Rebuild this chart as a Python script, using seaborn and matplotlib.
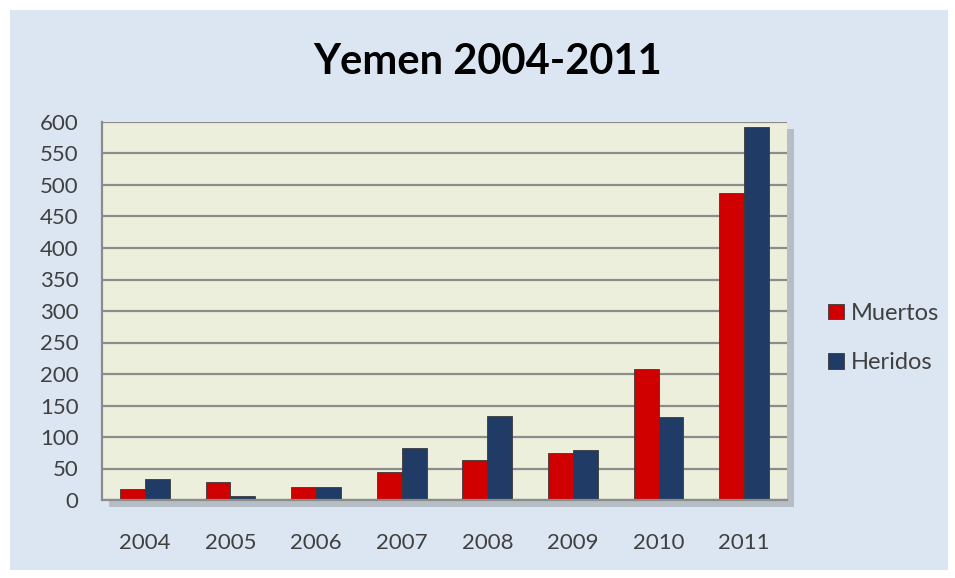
import pandas as pd
import matplotlib.pyplot as plt
import seaborn as sns
from matplotlib.patches import Rectangle
from matplotlib import patheffects as pe

years = ["2004", "2005", "2006", "2007", "2008", "2009", "2010", "2011"]
muertos = [18, 28, 21, 44, 63, 74, 208, 487]
heridos = [33, 7, 21, 82, 133, 80, 131, 592]
series = ["Muertos", "Heridos"]
colors = ["#D00000", "#1F3B66"]
yticks = list(range(0, 601, 50))

df = pd.DataFrame({
    "year": years * 2,
    "serie": [series[0]] * len(years) + [series[1]] * len(years),
    "value": muertos + heridos,
})

sns.set_style("white")
plt.rcParams["font.family"] = ["Lato", "DejaVu Sans"]

fig = plt.figure(figsize=(9.55, 5.78), dpi=100)
fig.patch.set_facecolor("white")
# light blue chart area behind everything
bg = Rectangle((10 / 955, 8 / 578), 938 / 955, 560 / 578,
               transform=fig.transFigure, facecolor="#DCE6F2",
               edgecolor="none", zorder=-10)
fig.patches.append(bg)

ax = fig.add_axes([102 / 955, 78 / 578, 685 / 955, 378 / 578])
ax.set_facecolor("#EBEFDC")
ax.patch.set_path_effects([pe.SimplePatchShadow(offset=(5, -5), alpha=0.25), pe.Normal()])

sns.barplot(data=df, x="year", y="value", hue="serie", palette=colors,
            width=0.58, saturation=1, ax=ax, edgecolor="#3a3a3a", linewidth=0.6)

ax.set_ylim(0, 600)
ax.set_yticks(yticks)
ax.yaxis.grid(True, color="#8C8C8C", linewidth=1.6)
ax.set_axisbelow(True)
ax.set_xlabel("")
ax.set_ylabel("")
ax.tick_params(axis="both", length=0, labelsize=16, labelcolor="#404040")
ax.tick_params(axis="y", pad=17)
ax.tick_params(axis="x", pad=24)
for s in ["top", "right"]:
    ax.spines[s].set_visible(False)
ax.spines["left"].set_color("#8C8C8C")
ax.spines["left"].set_linewidth(1.6)
ax.spines["bottom"].set_color("#8C8C8C")
ax.spines["bottom"].set_linewidth(1.6)

leg = ax.legend(loc="center left", frameon=False, fontsize=17, handlelength=0.65,
                handleheight=0.65, handletextpad=0.3, labelspacing=1.2)
for t in leg.get_texts():
    t.set_color("#404040")
leg.set_bbox_to_anchor((807 / 955, 1 - 338 / 578), transform=fig.transFigure)

fig.text(488 / 955, 1 - 62 / 578, "Yemen 2004-2011", ha="center", va="center",
         fontsize=30, fontweight="bold", color="black")

fig.savefig("out.png", dpi=100)
